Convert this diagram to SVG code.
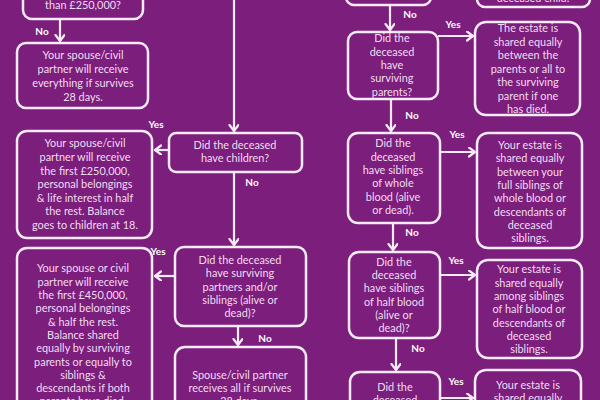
<svg xmlns="http://www.w3.org/2000/svg" width="600" height="400" viewBox="0 0 600 400">
<defs>
<marker id="ah" markerUnits="userSpaceOnUse" markerWidth="12" markerHeight="12" refX="7" refY="5" orient="auto">
<path d="M1,0.5 L7,5 L1,9.5" fill="none" stroke="#f7ebf7" stroke-width="2.2" stroke-linecap="round" stroke-linejoin="round"/>
</marker>
<style>
.box{fill:none;stroke:#f7ebf7;stroke-width:2.5}
.t{font-family:Lato,"Open Sans","Liberation Sans",sans-serif;font-size:10.9px;fill:#f2dcf2;text-anchor:middle}
.lb{font-family:Lato,"Liberation Sans",sans-serif;font-size:10px;font-weight:bold;fill:#ffffff;text-anchor:middle}
.c{fill:none;stroke:#f7ebf7;stroke-width:2.2;marker-end:url(#ah)}
</style>
</defs>
<rect x="0" y="0" width="600" height="400" fill="#7c1e7c"/>

<g id="conn">
<line class="c" x1="60" y1="19" x2="60" y2="41"/>
<line class="c" x1="234" y1="-2" x2="234" y2="131"/>
<line class="c" x1="169" y1="150" x2="155" y2="150"/>
<line class="c" x1="234" y1="172" x2="234" y2="245"/>
<line class="c" x1="175" y1="276" x2="155" y2="276"/>
<line class="c" x1="238" y1="326" x2="238" y2="345"/>
<line class="c" x1="390" y1="5" x2="390" y2="30"/>
<line class="c" x1="438" y1="36" x2="473" y2="36"/>
<line class="c" x1="391" y1="99" x2="391" y2="131"/>
<line class="c" x1="440" y1="152" x2="475" y2="152"/>
<line class="c" x1="393" y1="223" x2="393" y2="250"/>
<line class="c" x1="440" y1="275" x2="475" y2="275"/>
<line class="c" x1="396" y1="338" x2="396" y2="370"/>
<line class="c" x1="440" y1="398" x2="473" y2="398"/>
<text class="lb" x="42" y="35">No</text>
<text class="lb" x="156" y="128">Yes</text>
<text class="lb" x="252" y="186">No</text>
<text class="lb" x="158" y="255">Yes</text>
<text class="lb" x="265" y="342">No</text>
<text class="lb" x="410" y="18">No</text>
<text class="lb" x="453" y="28">Yes</text>
<text class="lb" x="412" y="119">No</text>
<text class="lb" x="457" y="138">Yes</text>
<text class="lb" x="412" y="236">No</text>
<text class="lb" x="456" y="264">Yes</text>
<text class="lb" x="418" y="352">No</text>
<text class="lb" x="456" y="385">Yes</text>
</g>

<g id="L0">
<rect class="box" x="23" y="-40" width="120" height="59" rx="9"/>
<text class="t" x="83" y="9">than £250,000?</text>
</g>
<g id="L1">
<rect class="box" x="17" y="43" width="131" height="65" rx="9"/>
<text class="t" x="83" y="59">Your spouse/civil</text>
<text class="t" x="83" y="73">partner will receive</text>
<text class="t" x="83" y="87">everything if survives</text>
<text class="t" x="83" y="101">28 days.</text>
</g>
<g id="L2">
<rect class="box" x="17" y="131" width="135" height="107" rx="10"/>
<text class="t" x="85" y="147">Your spouse/civil</text>
<text class="t" x="85" y="161">partner will receive</text>
<text class="t" x="85" y="174.5">the first £250,000,</text>
<text class="t" x="85" y="188">personal belongings</text>
<text class="t" x="85" y="202">&amp; life interest in half</text>
<text class="t" x="85" y="215">the rest. Balance</text>
<text class="t" x="85" y="229">goes to children at 18.</text>
</g>
<g id="L3">
<rect class="box" x="17" y="248" width="135" height="170" rx="10"/>
<text class="t" x="83" y="272">Your spouse or civil</text>
<text class="t" x="83" y="286">partner will receive</text>
<text class="t" x="83" y="299">the first £450,000,</text>
<text class="t" x="83" y="312">personal belongings</text>
<text class="t" x="83" y="326">&amp; half the rest.</text>
<text class="t" x="83" y="339">Balance shared</text>
<text class="t" x="83" y="352">equally by surviving</text>
<text class="t" x="83" y="366">parents or equally to</text>
<text class="t" x="83" y="379">siblings &amp;</text>
<text class="t" x="83" y="392">descendants if both</text>
<text class="t" x="83" y="405">parents have died.</text>
</g>
<g id="M1">
<rect class="box" x="169" y="133" width="133" height="39" rx="7"/>
<text class="t" x="235" y="149">Did the deceased</text>
<text class="t" x="235" y="162">have children?</text>
</g>
<g id="M2">
<rect class="box" x="175" y="247" width="131" height="79" rx="9"/>
<text class="t" x="240" y="264">Did the deceased</text>
<text class="t" x="240" y="277">have surviving</text>
<text class="t" x="240" y="291">partners and/or</text>
<text class="t" x="240" y="304">siblings (alive or</text>
<text class="t" x="240" y="317">dead)?</text>
</g>
<g id="M3">
<rect class="box" x="175" y="347" width="131" height="70" rx="10"/>
<text class="t" x="240" y="379">Spouse/civil partner</text>
<text class="t" x="240" y="392">receives all if survives</text>
<text class="t" x="240" y="405">28 days.</text>
</g>
<g id="R0">
<rect class="box" x="346" y="-40" width="85" height="45" rx="8"/>
</g>
<g id="RA0">
<rect class="box" x="477" y="-40" width="113" height="47" rx="8"/>
<text class="t" x="533" y="2">deceased child.</text>
</g>
<g id="Q1">
<rect class="box" x="348" y="32" width="90" height="67" rx="9"/>
<text class="t" x="392" y="42">Did the</text>
<text class="t" x="392" y="56">deceased</text>
<text class="t" x="392" y="69">have</text>
<text class="t" x="392" y="82">surviving</text>
<text class="t" x="392" y="96">parents?</text>
</g>
<g id="A1">
<rect class="box" x="475" y="22" width="105" height="93" rx="11"/>
<text class="t" x="528" y="32">The estate is</text>
<text class="t" x="528" y="46">shared equally</text>
<text class="t" x="528" y="59">between the</text>
<text class="t" x="528" y="73">parents or all to</text>
<text class="t" x="528" y="86">the surviving</text>
<text class="t" x="528" y="100">parent if one</text>
<text class="t" x="528" y="113">has died.</text>
</g>
<g id="Q2">
<rect class="box" x="348" y="133" width="92" height="90" rx="10"/>
<text class="t" x="393" y="147">Did the</text>
<text class="t" x="393" y="161">deceased</text>
<text class="t" x="393" y="174">have siblings</text>
<text class="t" x="393" y="187">of whole</text>
<text class="t" x="393" y="201">blood (alive</text>
<text class="t" x="393" y="214">or dead).</text>
</g>
<g id="A2">
<rect class="box" x="477" y="133" width="105" height="115" rx="11"/>
<text class="t" x="530" y="149">Your estate is</text>
<text class="t" x="530" y="162">shared equally</text>
<text class="t" x="530" y="176">between your</text>
<text class="t" x="530" y="189">full siblings of</text>
<text class="t" x="530" y="202">whole blood or</text>
<text class="t" x="530" y="216">descendants of</text>
<text class="t" x="530" y="229">deceased</text>
<text class="t" x="530" y="242">siblings.</text>
</g>
<g id="Q3">
<rect class="box" x="349" y="252" width="91" height="86" rx="10"/>
<text class="t" x="394" y="266">Did the</text>
<text class="t" x="394" y="279">deceased</text>
<text class="t" x="394" y="292">have siblings</text>
<text class="t" x="394" y="306">of half blood</text>
<text class="t" x="394" y="319">(alive or</text>
<text class="t" x="394" y="332">dead)?</text>
</g>
<g id="A3">
<rect class="box" x="477" y="260" width="105" height="98" rx="11"/>
<text class="t" x="529" y="273">Your estate is</text>
<text class="t" x="529" y="287">shared equally</text>
<text class="t" x="529" y="300">among siblings</text>
<text class="t" x="529" y="313">of half blood or</text>
<text class="t" x="529" y="327">descendants of</text>
<text class="t" x="529" y="340">deceased</text>
<text class="t" x="529" y="353">siblings.</text>
</g>
<g id="Q4">
<rect class="box" x="350" y="372" width="90" height="60" rx="10"/>
<text class="t" x="395" y="391">Did the</text>
<text class="t" x="395" y="404">deceased</text>
</g>
<g id="A4">
<rect class="box" x="475" y="370" width="106" height="60" rx="11"/>
<text class="t" x="528" y="389">Your estate is</text>
<text class="t" x="528" y="402">shared equally</text>
</g>
</svg>
